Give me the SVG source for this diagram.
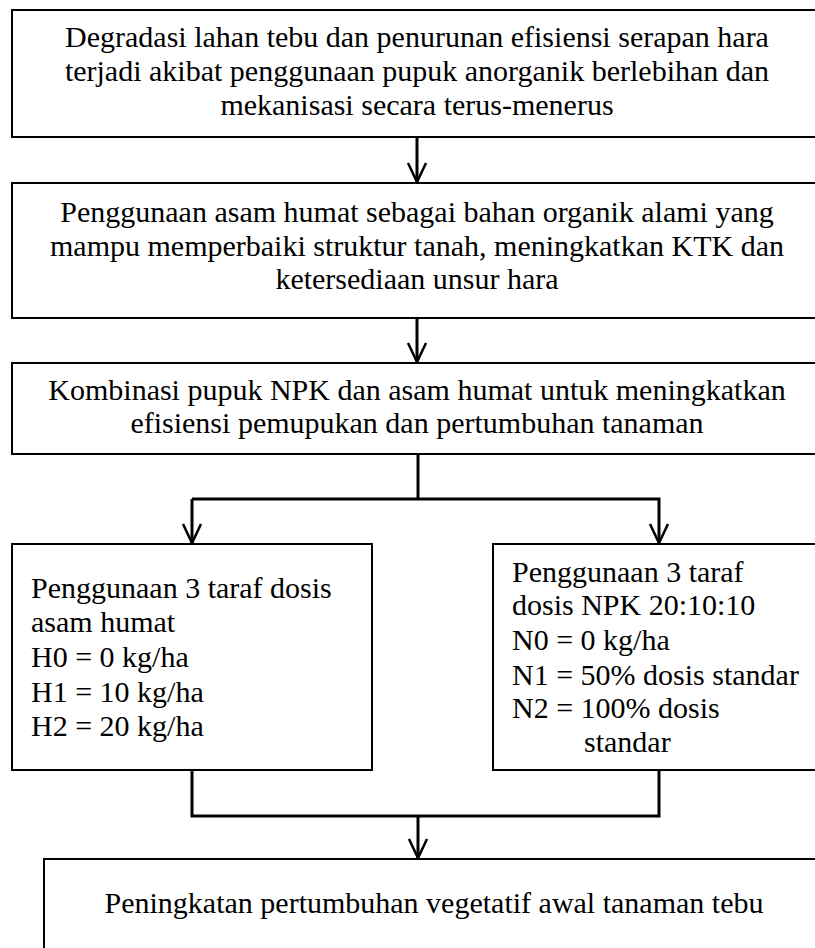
<svg xmlns="http://www.w3.org/2000/svg" width="815" height="948" viewBox="0 0 815 948" font-family="Liberation Serif, Times New Roman, serif">
<defs>
<style>
.box{fill:#fff;stroke:#000;stroke-width:2}
.t{font-family:"Liberation Serif",serif;font-size:30px;fill:#000}
.c{text-anchor:middle}
.con{fill:none;stroke:#000;stroke-width:3}
</style>
<marker id="ah" markerUnits="userSpaceOnUse" markerWidth="26" markerHeight="26" viewBox="-22 -12 26 24" refX="0" refY="0" orient="auto">
<path d="M-19,-9 L0,0 L-19,9" fill="none" stroke="#000" stroke-width="2.5"/>
</marker>
</defs>
<rect width="815" height="948" fill="#fff"/>
<g id="connectors">
<line class="con" x1="417" y1="137" x2="417" y2="182" marker-end="url(#ah)"/>
<line class="con" x1="417" y1="318" x2="417" y2="362" marker-end="url(#ah)"/>
<polyline class="con" points="418,454 418,499"/>
<polyline class="con" points="192,499 659,499 659,543" marker-end="url(#ah)"/>
<line class="con" x1="192" y1="499" x2="192" y2="543" marker-end="url(#ah)"/>
<polyline class="con" points="192,770 192,816 659,816 659,770"/>
<line class="con" x1="418" y1="816" x2="418" y2="858" marker-end="url(#ah)"/>
</g>
<g id="n1">
<rect class="box" x="12" y="10" width="811" height="127"/>
<text class="t c" x="417" y="47" font-family="Liberation Serif, serif">Degradasi lahan tebu dan penurunan efisiensi serapan hara</text>
<text class="t c" x="417" y="81" font-family="Liberation Serif, serif">terjadi akibat penggunaan pupuk anorganik berlebihan dan</text>
<text class="t c" x="417" y="115" font-family="Liberation Serif, serif">mekanisasi secara terus-menerus</text>
</g>
<g id="n2">
<rect class="box" x="12" y="183" width="811" height="135"/>
<text class="t c" x="417" y="222">Penggunaan asam humat sebagai bahan organik alami yang</text>
<text class="t c" x="417" y="256">mampu memperbaiki struktur tanah, meningkatkan KTK dan</text>
<text class="t c" x="417" y="289">ketersediaan unsur hara</text>
</g>
<g id="n3">
<rect class="box" x="12" y="363" width="811" height="91"/>
<text class="t c" x="417" y="400">Kombinasi pupuk NPK dan asam humat untuk meningkatkan</text>
<text class="t c" x="417" y="433">efisiensi pemupukan dan pertumbuhan tanaman</text>
</g>
<g id="n4">
<rect class="box" x="12" y="544" width="360" height="226"/>
<text class="t" x="31" y="598">Penggunaan 3 taraf dosis</text>
<text class="t" x="31" y="632">asam humat</text>
<text class="t" x="31" y="667">H0 = 0 kg/ha</text>
<text class="t" x="31" y="702">H1 = 10 kg/ha</text>
<text class="t" x="31" y="736">H2 = 20 kg/ha</text>
</g>
<g id="n5">
<rect class="box" x="493" y="544" width="350" height="226"/>
<text class="t" x="512" y="582">Penggunaan 3 taraf</text>
<text class="t" x="512" y="615">dosis NPK 20:10:10</text>
<text class="t" x="512" y="650">N0 = 0 kg/ha</text>
<text class="t" x="512" y="685">N1 = 50% dosis standar</text>
<text class="t" x="512" y="718">N2 = 100% dosis</text>
<text class="t" x="584" y="752">standar</text>
</g>
<g id="n6">
<rect class="box" x="44" y="859" width="780" height="100"/>
<text class="t c" x="434" y="913">Peningkatan pertumbuhan vegetatif awal tanaman tebu</text>
</g>
</svg>
